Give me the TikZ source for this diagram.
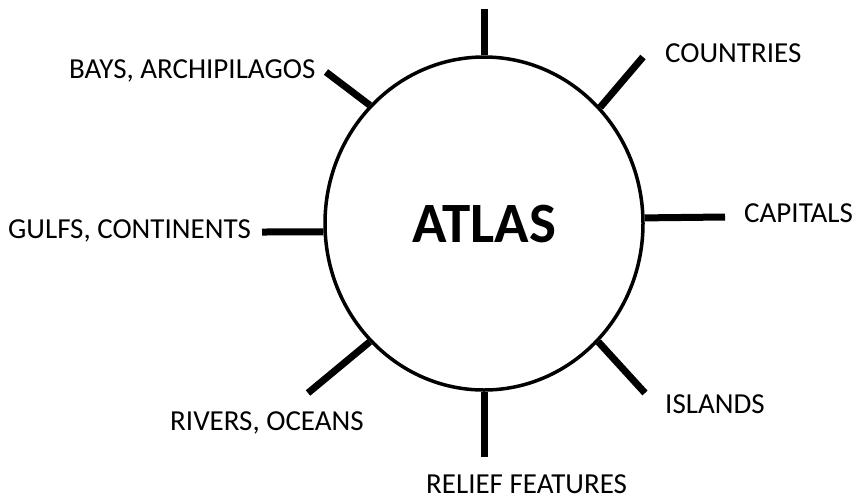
\documentclass[tikz,border=0pt]{standalone}
\usepackage{fontspec}
\setmainfont{Carlito}
\usetikzlibrary{shapes.geometric}
\tikzstyle{hub} = [ellipse, draw=black, line width=3.5pt, minimum width=318pt, minimum
height=333pt, inner sep=0pt, text centered, font=\fontsize{57}{60}\selectfont\bfseries]
\tikzstyle{topic} = [inner sep=0pt, anchor=base west, font=\fontsize{29}{32}\selectfont]
\tikzstyle{spoke} = [line width=7pt]

\begin{document}
\begin{tikzpicture}[x=1pt, y=-1pt]
  \useasboundingbox (0,0) rectangle (859,499);
  \node (atlas) [hub] at (484,223.5) {ATLAS};

  \coordinate (n-end) at (484,9);
  \coordinate (ne-end) at (643,57);
  \coordinate (e-end) at (725,217);
  \coordinate (se-end) at (645,393);
  \coordinate (s-end) at (484,457);
  \coordinate (sw-end) at (308,393);
  \coordinate (w-end) at (262,232);
  \coordinate (nw-end) at (326,72);

  \node (countries) [topic] at (665,62) {COUNTRIES};
  \node (capitals) [topic] at (744,222) {CAPITALS};
  \node (islands) [topic] at (665,413) {ISLANDS};
  \node (relief) [topic] at (426,493) {RELIEF FEATURES};
  \node (rivers) [topic] at (170,430) {RIVERS, OCEANS};
  \node (gulfs) [topic] at (8,238) {GULFS, CONTINENTS};
  \node (bays) [topic] at (69,78) {BAYS, ARCHIPILAGOS};

  \draw[spoke] (atlas.90) -- (n-end);
  \draw[spoke] (atlas.45) -- (ne-end);
  \draw[spoke] (atlas.2) -- (e-end);
  \draw[spoke] (atlas.-46) -- (se-end);
  \draw[spoke] (atlas.-90) -- (s-end);
  \draw[spoke] (atlas.226.5) -- (sw-end);
  \draw[spoke] (atlas.183) -- (w-end);
  \draw[spoke] (atlas.134) -- (nw-end);
\end{tikzpicture}
\end{document}
